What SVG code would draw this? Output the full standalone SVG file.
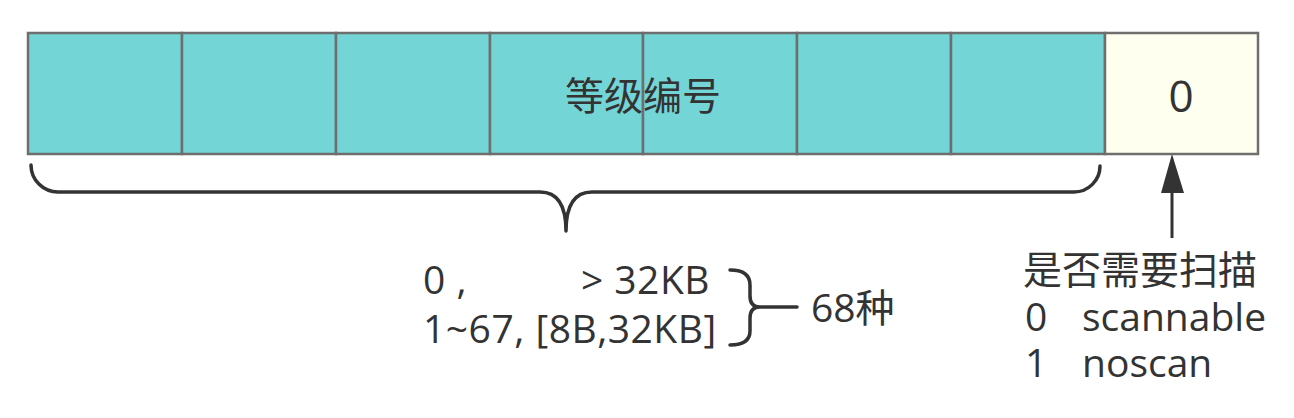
<svg xmlns="http://www.w3.org/2000/svg" width="1294" height="418" viewBox="0 0 1294 418">
  <style>
    .cell { fill: #74D5D7; stroke: #6E6E6E; stroke-width: 2.5; }
    .flag { fill: #FFFFF0; stroke: #6E6E6E; stroke-width: 2.5; }
    .txt { font-family: "Open Sans", "Noto Sans CJK SC", sans-serif; fill: #333333; font-size: 39px; }
    .cjk { font-family: "Noto Sans CJK SC", sans-serif; fill: #333333; }
    .brace { fill: none; stroke: #333333; stroke-width: 3.5; stroke-linecap: round; stroke-linejoin: round; }
  </style>
  <rect width="1294" height="418" fill="#FFFFFF"/>
  <g id="level-bits">
    <rect class="cell" x="28" y="33" width="154" height="121"/>
    <rect class="cell" x="182" y="33" width="154" height="121"/>
    <rect class="cell" x="336" y="33" width="154" height="121"/>
    <rect class="cell" x="490" y="33" width="153" height="121"/>
    <rect class="cell" x="643" y="33" width="154" height="121"/>
    <rect class="cell" x="797" y="33" width="154" height="121"/>
    <rect class="cell" x="951" y="33" width="154" height="121"/>
    <text class="cjk" x="643" y="110" font-size="39" text-anchor="middle">等级编号</text>
  </g>
  <g id="scan-bit">
    <rect class="flag" x="1105" y="33" width="153" height="121"/>
    <text class="txt" x="1181" y="112" text-anchor="middle" style="font-size:44px">0</text>
  </g>
  <g id="connectors">
    <path class="brace" d="M31,165 A27,27 0 0 0 58,192 L540,192 Q566,192 566,231 Q566,192 592,192 L1074,192 A26,26 0 0 0 1100,166"/>
    <path class="brace" d="M730,270 Q750,270 750,285 L750,296 Q750,307 760,307 Q750,307 750,318 L750,331 Q750,345 730,345 M760,307 L797,307"/>
    <line x1="1172" y1="238" x2="1172" y2="188" stroke="#333333" stroke-width="3"/>
    <polygon points="1172,154 1161,193 1184,193" fill="#333333"/>
  </g>
  <g id="size-classes">
    <text class="txt" x="423" y="294" letter-spacing="0.5">0 ,</text>
    <text class="txt" x="710" y="294" text-anchor="end" letter-spacing="0.5">&gt; 32KB</text>
    <text class="txt" x="423" y="343" letter-spacing="0.5">1~67, [8B,32KB]</text>
    <text class="txt" x="811" y="322">68种</text>
  </g>
  <g id="scan-note">
    <text class="txt" x="1023" y="284">是否需要扫描</text>
    <text class="txt" x="1025" y="331">0</text>
    <text class="txt" x="1082" y="331">scannable</text>
    <text class="txt" x="1025" y="377">1</text>
    <text class="txt" x="1082" y="377">noscan</text>
  </g>
</svg>
